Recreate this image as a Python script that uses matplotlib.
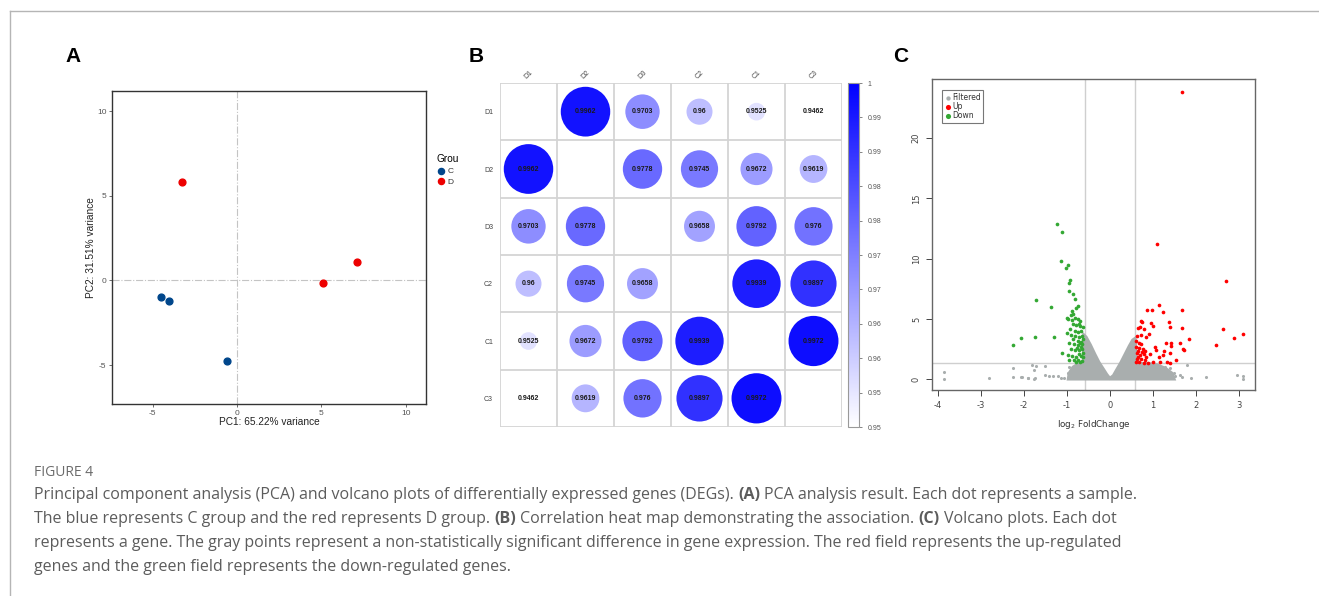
import matplotlib
matplotlib.use("Agg")
import matplotlib.pyplot as plt
import numpy as np
from matplotlib.colors import LinearSegmentedColormap, Normalize
from matplotlib.patches import Circle
from matplotlib.lines import Line2D
import matplotlib.cm as cm

plt.rcParams["axes.unicode_minus"] = False

# ---------------- data ----------------
# A: PCA scores
pc1_C = [-4.49, -4.03, -0.57]
pc2_C = [-0.97, -1.23, -4.74]
pc1_D = [-3.26, 5.10, 7.14]
pc2_D = [5.83, -0.12, 1.07]

# B: correlation matrix
samples = ["D1", "D2", "D3", "C2", "C1", "C3"]
corr = [
    [1.0,    0.9962, 0.9703, 0.96,   0.9525, 0.9462],
    [0.9962, 1.0,    0.9778, 0.9745, 0.9672, 0.9619],
    [0.9703, 0.9778, 1.0,    0.9658, 0.9792, 0.976],
    [0.96,   0.9745, 0.9658, 1.0,    0.9939, 0.9897],
    [0.9525, 0.9672, 0.9792, 0.9939, 1.0,    0.9972],
    [0.9462, 0.9619, 0.976,  0.9897, 0.9972, 1.0],
]
cbar_labels = ["0.95", "0.95", "0.96", "0.96", "0.97", "0.97",
               "0.98", "0.98", "0.99", "0.99", "1"]

# C: volcano plot (log2 fold change, -log10 p)
down_x = [-2.26, -2.07, -1.74, -1.72, -1.37, -1.29, -1.22, -1.11, -1.13, -0.97,
          -1.01, -0.92, -0.96, -0.96, -0.85, -0.82, -0.75, -0.78, -0.89, -0.85,
          -0.99, -1.12,
          -0.98, -0.90, -0.82, -0.74, -0.69, -0.86, -0.78, -0.70, -0.93, -0.82,
          -0.75, -0.66, -1.00, -0.90, -0.80, -0.72, -0.65, -0.86, -0.75, -0.68,
          -0.95, -0.84, -0.73, -0.64, -0.91, -0.80, -0.71, -0.65, -0.98, -0.87,
          -0.78, -0.68, -0.95, -0.83, -0.74, -0.65, -0.79, -0.69, -0.62, -0.62,
          -0.63, -0.70, -0.77, -0.67, -0.88, -0.71, -0.62, -0.72]
down_y = [2.87, 3.40, 3.50, 6.58, 5.95, 3.52, 12.84, 12.17, 9.80, 9.50,
          9.25, 8.26, 7.98, 7.35, 7.05, 6.69, 6.06, 5.87, 5.64, 5.37,
          5.04, 2.20,
          5.00, 5.30, 5.10, 5.00, 4.80, 4.60, 4.50, 4.40, 4.20, 4.00,
          3.90, 4.00, 3.80, 3.70, 3.60, 3.50, 3.60, 3.30, 3.20, 3.10,
          3.00, 2.90, 2.80, 2.90, 2.50, 2.40, 2.40, 2.50, 2.00, 1.90,
          1.85, 1.90, 1.60, 1.60, 1.55, 1.50, 1.40, 1.40, 2.20, 3.30,
          4.30, 3.00, 2.60, 2.70, 4.90, 4.60, 1.80, 2.10]

up_x = [1.68, 1.09, 2.71, 1.15, 0.86, 0.98, 1.68, 1.24, 0.72, 0.75,
        0.95, 1.00, 1.37, 1.41, 1.68, 0.65, 0.71, 0.79, 0.91, 0.73,
        0.64, 0.84, 1.84, 2.63, 3.09, 2.88, 2.48, 1.64, 1.71, 1.72,
        1.42, 1.43, 1.30, 1.06, 1.08, 1.14, 1.24, 1.27, 1.39, 1.54,
        1.34, 1.41, 1.16, 1.00, 0.90, 0.79, 0.69, 0.61,
        0.62, 0.67, 0.73, 0.61, 0.69, 0.77, 0.65, 0.74, 0.63, 0.71,
        0.79, 0.84, 0.65, 0.73, 0.63, 0.81, 0.93, 0.83]
up_y = [23.85, 11.21, 8.15, 6.11, 5.73, 5.77, 5.73, 5.53, 4.84, 4.76,
        4.62, 4.43, 4.76, 4.35, 4.21, 4.27, 4.35, 4.16, 3.72, 3.69,
        3.55, 3.50, 3.36, 4.16, 3.77, 3.39, 2.81, 3.03, 2.54, 2.43,
        2.98, 2.79, 2.98, 2.70, 2.40, 1.87, 1.98, 2.37, 2.15, 1.60,
        1.40, 1.38, 1.46, 1.43, 1.38, 1.38, 1.40, 1.43,
        3.15, 3.00, 2.92, 2.70, 2.59, 2.54, 2.37, 2.29, 2.15, 2.01,
        2.09, 1.87, 1.82, 1.71, 1.65, 1.60, 2.12, 2.37]

filt_x = [-3.85, -3.85, -2.82, -2.26, -2.26, -2.06, -1.90, -1.76, -1.81, -1.73,
          -1.76, -1.52, -2.04, -1.91, -1.75, -1.52, -1.41, -1.33, -1.21, -1.13,
          -1.06, -0.94, -0.86, -0.98, -0.86, -0.78, -0.74,
          1.80, 1.89, 2.25, 2.95, 3.09, 3.09, 1.63, 1.69, 1.49, 1.52,
          1.41, 1.32, 1.24, 1.28, 1.16, 1.08, 1.00, 1.12]
filt_y = [0.58, 0.02, 0.13, 0.96, 0.19, 0.16, 0.08, 0.02, 1.21, 1.10,
          0.75, 1.07, 0.16, 0.08, 0.08, 0.38, 0.22, 0.24, 0.30, 0.08,
          0.08, 1.04, 0.90, 0.50, 0.36, 0.20, 0.60,
          1.16, 0.11, 0.19, 0.33, 0.22, 0.03, 0.36, 0.17, 0.50, 0.22,
          0.91, 0.63, 0.36, 1.00, 0.50, 0.72, 0.77, 1.05]

# outline of the dense cloud of non-significant genes
cloud_x = [-0.97, -0.95, -0.86, -0.75, -0.62, -0.61, -0.55, -0.45, -0.35, -0.25,
           -0.15, -0.07, 0.00, 0.08, 0.16, 0.25, 0.35, 0.45, 0.53, 0.59,
           0.62, 0.90, 1.10, 1.30, 1.45, 1.50]
cloud_y = [0.00, 0.50, 1.00, 1.25, 1.30, 3.70, 3.50, 2.85, 2.10, 1.40,
           0.85, 0.40, 0.08, 0.30, 0.80, 1.35, 2.05, 2.75, 3.25, 3.40,
           1.30, 1.30, 1.20, 0.90, 0.50, 0.00]

# ---------------- figure ----------------
W, H = 1319, 596
fig = plt.figure(figsize=(W / 100, H / 100), dpi=100)


def fx(px):
    return px / W


def fy(py):
    return 1 - py / H


# frame lines of the page
fig.add_artist(Line2D([fx(10), 1], [fy(11), fy(11)], color="#b5b5b5", lw=1))
fig.add_artist(Line2D([fx(10), fx(10)], [fy(11), 0], color="#b5b5b5", lw=1))

for letter, px, py in [("A", 73, 56), ("B", 476, 56), ("C", 901, 56)]:
    fig.text(fx(px), fy(py), letter, fontsize=15, fontweight="bold",
             family="Liberation Sans", ha="center", va="center")

# ---- A: PCA ----
axA = fig.add_axes([fx(112), fy(404), fx(426) - fx(112), fy(91) - fy(404)])
axA.axhline(0, color="#c4c4c4", ls="-.", lw=0.8, zorder=1)
axA.axvline(0, color="#c4c4c4", ls="-.", lw=0.8, zorder=1)
axA.scatter(pc1_C, pc2_C, s=24, color="#00468B", label="C", zorder=3)
axA.scatter(pc1_D, pc2_D, s=24, color="#ED0000", label="D", zorder=3)
axA.set_xlim(-7.4, 11.2)
axA.set_ylim(-7.3, 11.2)
axA.set_xticks([-5, 0, 5, 10])
axA.set_yticks([-5, 0, 5, 10])
for sp in axA.spines.values():
    sp.set_color("#333333")
    sp.set_linewidth(1.0)
axA.tick_params(labelsize=6, colors="#555555", length=2.5, width=0.6, pad=1.5)
for t in axA.get_xticklabels() + axA.get_yticklabels():
    t.set_family("Liberation Sans")
axA.set_xlabel("PC1: 65.22% variance", fontsize=7.3, family="Liberation Sans",
               labelpad=0.5, color="#222222")
axA.set_ylabel("PC2: 31.51% variance", fontsize=7.3, family="Liberation Sans",
               labelpad=1, color="#222222")
legA = axA.legend(title="Grou", loc="upper left", bbox_to_anchor=(fx(432), fy(150)),
                  bbox_transform=fig.transFigure, frameon=False,
                  title_fontsize=7.3, handletextpad=0.2, labelspacing=0.35,
                  borderpad=0, handlelength=1.2, markerscale=0.9, alignment="left",
                  prop={"family": "Liberation Sans", "size": 6})
legA.get_title().set_family("Liberation Sans")
for t in legA.get_texts():
    t.set_color("#333333")

# ---- B: correlation circles ----
axB = fig.add_axes([fx(500), fy(427), fx(842) - fx(500), fy(83) - fy(427)])
n = len(samples)
vmin, vmax = 0.9462, 1.0
cmap = LinearSegmentedColormap.from_list("wb", ["#ffffff", "#0000ff"])
norm = Normalize(vmin=vmin, vmax=vmax)
for i in range(n):
    for j in range(n):
        if i == j:
            continue
        v = corr[i][j]
        r = 0.45 * np.sqrt(max(v - vmin, 0) / (vmax - vmin))
        axB.add_patch(Circle((j, i), r, facecolor=cmap(norm(v)), edgecolor="none",
                             zorder=2))
        axB.text(j, i, f"{v:g}", ha="center", va="center", fontsize=5,
                 fontweight="bold", color="#1a1a1a", family="Liberation Sans",
                 zorder=3)
for k in range(n + 1):
    axB.axhline(k - 0.5, color="#d4d4d4", lw=1.3, zorder=1)
    axB.axvline(k - 0.5, color="#d4d4d4", lw=1.3, zorder=1)
axB.set_xlim(-0.5, n - 0.5)
axB.set_ylim(n - 0.5, -0.5)
for sp in axB.spines.values():
    sp.set_visible(False)
axB.set_xticks(range(n))
axB.set_yticks(range(n))
axB.xaxis.tick_top()
axB.set_xticklabels(samples, rotation=45, ha="center", va="bottom", fontsize=5,
                    color="#444444", family="Liberation Sans")
axB.set_yticklabels(samples, fontsize=5, color="#444444", family="Liberation Sans")
axB.tick_params(length=0, pad=5)
axB.tick_params(axis="x", pad=2)

caxB = fig.add_axes([fx(848), fy(427), fx(859) - fx(848), fy(83) - fy(427)])
cb = fig.colorbar(cm.ScalarMappable(norm=norm, cmap=cmap), cax=caxB)
cb.set_ticks(np.linspace(vmin, vmax, len(cbar_labels)))
cb.set_ticklabels(cbar_labels)
cb.outline.set_edgecolor("#999999")
cb.outline.set_linewidth(0.8)
caxB.tick_params(labelsize=5, colors="#555555", length=2, width=0.5, pad=4)
for t in caxB.get_yticklabels():
    t.set_family("Liberation Sans")

# ---- C: volcano ----
axC = fig.add_axes([fx(932), fy(390), fx(1255) - fx(932), fy(79) - fy(390)])
axC.fill(cloud_x, cloud_y, color="#a9aeae", lw=2, ec="#a9aeae", zorder=2)
axC.scatter(filt_x, filt_y, s=5, color="#a9aeae", lw=0, zorder=2, label="Filtered")
axC.scatter(up_x, up_y, s=7, color="#ff0000", lw=0, zorder=3, label="Up")
axC.scatter(down_x, down_y, s=7, color="#33a833", lw=0, zorder=3, label="Down")
axC.axvline(-0.585, color="#cfcfcf", lw=1, zorder=1)
axC.axvline(0.585, color="#cfcfcf", lw=1, zorder=1)
axC.axhline(1.3, color="#cfcfcf", lw=1, zorder=1)
axC.set_xlim(-4.14, 3.38)
axC.set_ylim(-0.9, 24.9)
axC.set_xticks(range(-4, 4))
axC.set_yticks([0, 5, 10, 15, 20])
for sp in axC.spines.values():
    sp.set_color("#666666")
    sp.set_linewidth(1.0)
axC.tick_params(labelsize=6, colors="#444444", length=4, width=0.7, pad=4)
plt.setp(axC.get_yticklabels(), rotation=90, va="center")
axC.set_xlabel(r"log$_2$ FoldChange", fontsize=6.3, color="#333333", labelpad=6)
legC = axC.legend(loc="upper left", fontsize=5.5, frameon=True, fancybox=False,
                  edgecolor="#555555", handletextpad=0.1, labelspacing=0.05,
                  borderpad=0.3, handlelength=1.0, markerscale=1.4,
                  bbox_to_anchor=(0.018, 0.976))
legC.get_frame().set_linewidth(0.8)
for t in legC.get_texts():
    t.set_color("#333333")

# ---- caption ----
cap_font = dict(family="Open Sans", fontsize=11.5, color="#5c5c5c", va="center")
fig.text(fx(34), fy(473), "FIGURE 4", family="Open Sans", fontsize=10,
         color="#6b6b6b", va="center")

caption = [
    [("Principal component analysis (PCA) and volcano plots of differentially expressed genes (DEGs).", False),
     ("(A)", True), ("PCA analysis result. Each dot represents a sample.", False)],
    [("The blue represents C group and the red represents D group.", False), ("(B)", True),
     ("Correlation heat map demonstrating the association.", False), ("(C)", True),
     ("Volcano plots. Each dot", False)],
    [("represents a gene. The gray points represent a non-statistically significant difference in gene expression. The red field represents the up-regulated", False)],
    [("genes and the green field represents the down-regulated genes.", False)],
]
line_y = [495, 519, 543, 567]

renderer = fig.canvas.get_renderer()
probe = fig.text(0, 0, "a a", **cap_font)
w_two = probe.get_window_extent(renderer).width
probe.set_text("aa")
space_w = w_two - probe.get_window_extent(renderer).width
probe.remove()

for parts, py in zip(caption, line_y):
    x = 34
    for k, (txt, bold) in enumerate(parts):
        t = fig.text(fx(x), fy(py), txt, fontweight="bold" if bold else "normal",
                     **cap_font)
        x += t.get_window_extent(renderer).width + space_w

fig.savefig("out.png", dpi=100)
